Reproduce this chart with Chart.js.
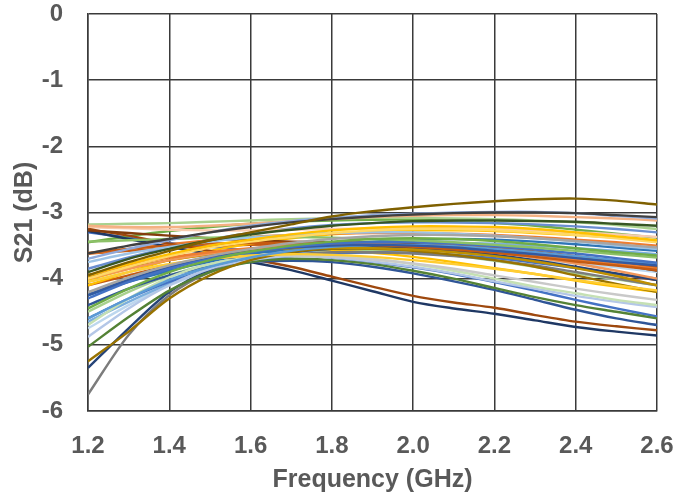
<!DOCTYPE html>
<html>
<head>
<meta charset="utf-8">
<script src="https://cdn.jsdelivr.net/npm/chart.js@4.4.1/dist/chart.umd.min.js"></script>
<style>
html,body{margin:0;padding:0;background:#fff;}
#wrap{width:675px;height:498px;}
</style>
</head>
<body>
<div id="wrap"><canvas id="c" width="675" height="498"></canvas></div>
<script>
// Frequency points (GHz)
const freqs = [1.2,1.3,1.4,1.5,1.6,1.7,1.8,1.9,2.0,2.1,2.2,2.3,2.4,2.5,2.6];
const xTicks = [1.2,1.4,1.6,1.8,2.0,2.2,2.4,2.6];
const yTicks = [0,-1,-2,-3,-4,-5,-6];

// S21 curves (dB), one array per device
const s01 = [-3.95,-3.75,-3.58,-3.42,-3.30,-3.18,-3.06,-2.98,-2.92,-2.87,-2.83,-2.80,-2.79,-2.82,-2.88];
const s02 = [-3.62,-3.50,-3.40,-3.30,-3.22,-3.15,-3.10,-3.06,-3.03,-3.01,-3.00,-3.00,-3.01,-3.04,-3.07];
const s03 = [-3.70,-3.55,-3.42,-3.30,-3.20,-3.13,-3.08,-3.04,-3.02,-3.00,-2.99,-2.99,-3.01,-3.05,-3.09];
const s04 = [-3.20,-3.22,-3.22,-3.20,-3.17,-3.13,-3.10,-3.07,-3.05,-3.04,-3.04,-3.05,-3.07,-3.09,-3.12];
const s05 = [-3.90,-3.70,-3.55,-3.42,-3.33,-3.26,-3.20,-3.16,-3.13,-3.12,-3.12,-3.13,-3.14,-3.17,-3.20];
const s06 = [-3.18,-3.17,-3.16,-3.14,-3.12,-3.10,-3.09,-3.08,-3.08,-3.09,-3.10,-3.12,-3.15,-3.19,-3.25];
const s07 = [-3.95,-3.78,-3.63,-3.50,-3.41,-3.33,-3.27,-3.23,-3.21,-3.21,-3.22,-3.25,-3.30,-3.36,-3.42];
const s08 = [-4.00,-3.82,-3.66,-3.53,-3.44,-3.37,-3.31,-3.27,-3.25,-3.25,-3.27,-3.30,-3.34,-3.39,-3.45];
const s09 = [-4.20,-3.98,-3.80,-3.66,-3.55,-3.46,-3.40,-3.36,-3.34,-3.34,-3.36,-3.39,-3.43,-3.48,-3.53];
const s10 = [-3.75,-3.62,-3.52,-3.44,-3.38,-3.34,-3.31,-3.30,-3.30,-3.32,-3.35,-3.39,-3.44,-3.50,-3.55];
const s11 = [-4.45,-4.15,-3.90,-3.72,-3.59,-3.50,-3.44,-3.40,-3.39,-3.40,-3.43,-3.48,-3.54,-3.60,-3.65];
const s12 = [-3.44,-3.42,-3.40,-3.38,-3.37,-3.37,-3.38,-3.40,-3.42,-3.45,-3.49,-3.53,-3.58,-3.63,-3.68];
const s13 = [-4.30,-4.05,-3.85,-3.70,-3.60,-3.52,-3.47,-3.45,-3.45,-3.47,-3.51,-3.56,-3.62,-3.69,-3.76];
const s14 = [-4.25,-4.02,-3.83,-3.69,-3.59,-3.53,-3.50,-3.49,-3.50,-3.53,-3.58,-3.63,-3.69,-3.75,-3.80];
const s15 = [-4.60,-4.30,-4.02,-3.82,-3.68,-3.58,-3.52,-3.49,-3.49,-3.51,-3.55,-3.60,-3.66,-3.72,-3.78];
const s16 = [-3.61,-3.55,-3.50,-3.47,-3.46,-3.46,-3.47,-3.49,-3.52,-3.56,-3.61,-3.67,-3.74,-3.80,-3.87];
const s17 = [-3.95,-3.80,-3.68,-3.60,-3.54,-3.50,-3.48,-3.48,-3.50,-3.53,-3.58,-3.64,-3.71,-3.78,-3.85];
const s18 = [-3.27,-3.31,-3.35,-3.39,-3.42,-3.44,-3.45,-3.46,-3.48,-3.52,-3.57,-3.63,-3.70,-3.78,-3.88];
const s19 = [-4.00,-3.85,-3.72,-3.62,-3.55,-3.50,-3.48,-3.48,-3.50,-3.54,-3.60,-3.68,-3.77,-3.88,-4.00];
const s20 = [-3.98,-3.84,-3.72,-3.63,-3.57,-3.54,-3.53,-3.54,-3.56,-3.60,-3.66,-3.74,-3.84,-3.96,-4.10];
const s21 = [-4.05,-3.90,-3.78,-3.70,-3.65,-3.63,-3.64,-3.67,-3.72,-3.78,-3.85,-3.93,-4.02,-4.10,-4.18];
const s22 = [-5.25,-4.80,-4.30,-3.95,-3.72,-3.60,-3.55,-3.55,-3.58,-3.64,-3.72,-3.82,-3.95,-4.08,-4.20];
const s23 = [-4.05,-3.90,-3.78,-3.70,-3.66,-3.65,-3.67,-3.71,-3.77,-3.85,-3.95,-4.05,-4.15,-4.24,-4.32];
const s24 = [-4.70,-4.30,-3.98,-3.78,-3.68,-3.64,-3.65,-3.70,-3.78,-3.88,-4.00,-4.12,-4.22,-4.32,-4.40];
const s25 = [-4.88,-4.45,-4.10,-3.85,-3.72,-3.66,-3.68,-3.74,-3.82,-3.92,-4.04,-4.15,-4.26,-4.35,-4.43];
const s26 = [-5.03,-4.58,-4.18,-3.90,-3.75,-3.70,-3.72,-3.78,-3.88,-4.00,-4.14,-4.28,-4.40,-4.50,-4.60];
const s27 = [-4.40,-4.15,-3.95,-3.82,-3.75,-3.73,-3.75,-3.82,-3.92,-4.04,-4.17,-4.32,-4.47,-4.60,-4.70];
const s28 = [-3.25,-3.35,-3.47,-3.58,-3.70,-3.82,-3.97,-4.12,-4.26,-4.36,-4.44,-4.55,-4.65,-4.72,-4.78];
const s29 = [-3.28,-3.40,-3.52,-3.63,-3.75,-3.87,-4.03,-4.19,-4.35,-4.45,-4.53,-4.63,-4.73,-4.80,-4.86];
const s30 = [-5.75,-4.85,-4.25,-3.90,-3.72,-3.64,-3.60,-3.60,-3.62,-3.66,-3.72,-3.80,-3.90,-4.00,-4.10];
const s31 = [-5.35,-4.75,-4.20,-3.88,-3.70,-3.60,-3.55,-3.53,-3.54,-3.58,-3.64,-3.72,-3.82,-3.92,-4.02];
const s32 = [-4.60,-4.30,-4.05,-3.86,-3.74,-3.66,-3.62,-3.60,-3.61,-3.64,-3.69,-3.76,-3.84,-3.93,-4.00];
const s33 = [-4.65,-4.35,-4.08,-3.86,-3.72,-3.62,-3.55,-3.50,-3.47,-3.46,-3.47,-3.50,-3.54,-3.58,-3.63];
const s34 = [-4.25,-4.05,-3.88,-3.74,-3.63,-3.55,-3.49,-3.44,-3.41,-3.40,-3.41,-3.44,-3.48,-3.53,-3.58];
const s35 = [-3.62,-3.55,-3.48,-3.42,-3.37,-3.34,-3.32,-3.31,-3.31,-3.32,-3.34,-3.37,-3.41,-3.45,-3.50];
const s36 = [-3.22,-3.24,-3.26,-3.27,-3.27,-3.26,-3.25,-3.24,-3.23,-3.23,-3.24,-3.27,-3.30,-3.33,-3.37];
const s37 = [-3.85,-3.68,-3.53,-3.41,-3.31,-3.24,-3.19,-3.16,-3.15,-3.15,-3.16,-3.18,-3.21,-3.25,-3.30];
const s38 = [-4.10,-3.90,-3.72,-3.58,-3.47,-3.39,-3.33,-3.29,-3.27,-3.27,-3.28,-3.31,-3.34,-3.38,-3.43];
const s39 = [-4.10,-3.95,-3.80,-3.68,-3.59,-3.53,-3.49,-3.47,-3.47,-3.49,-3.53,-3.59,-3.66,-3.74,-3.83];
const s40 = [-3.45,-3.36,-3.28,-3.22,-3.17,-3.14,-3.12,-3.11,-3.11,-3.13,-3.16,-3.20,-3.26,-3.32,-3.38];
const s41 = [-4.22,-4.00,-3.82,-3.69,-3.60,-3.55,-3.53,-3.53,-3.55,-3.58,-3.62,-3.67,-3.73,-3.79,-3.85];
const s42 = [-4.02,-3.85,-3.72,-3.63,-3.58,-3.56,-3.57,-3.61,-3.67,-3.75,-3.84,-3.93,-4.03,-4.12,-4.20];
const s43 = [-4.75,-4.40,-4.10,-3.88,-3.74,-3.66,-3.62,-3.60,-3.60,-3.62,-3.66,-3.71,-3.77,-3.83,-3.90];
const s44 = [-3.62,-3.58,-3.54,-3.51,-3.49,-3.48,-3.48,-3.50,-3.53,-3.58,-3.65,-3.73,-3.83,-3.93,-4.02];
const s45 = [-4.50,-4.20,-3.95,-3.78,-3.67,-3.60,-3.57,-3.57,-3.60,-3.65,-3.73,-3.82,-3.92,-4.01,-4.10];
const s46 = [-3.30,-3.38,-3.46,-3.52,-3.57,-3.62,-3.68,-3.75,-3.83,-3.93,-4.05,-4.18,-4.32,-4.45,-4.57];

const seriesList = [s01,s02,s03,s04,s05,s06,s07,s08,s09,s10,s11,s12,s13,s14,s15,s16,s17,s18,s19,s20,s21,s22,s23,
  s24,s25,s26,s27,s28,s29,s30,s31,s32,s33,s34,s35,s36,s37,s38,s39,s40,s41,s42,s43,s44,s45,s46];
const seriesColors = ['#7F6000','#404040','#8FAADC','#F4B183','#375623','#A9D18E','#FFC000','#FFD966','#A5A5A5',
  '#9DC3E6','#70AD47','#8CC168','#4472C4','#335AA1','#5B9BD5','#C55A11','#ED7D31','#843C0C','#F1975A','#BF9000',
  '#FFCD33','#997300','#C9C9C9','#C5E0B4','#B4C7E7','#548235','#2F5597','#9E480E','#1F3864','#7C7C7C','#264478',
  '#4472C4','#7CAFDD','#2E75B6','#ED7D31','#F8CBAD','#698ED0','#FFC000','#C55A11','#70AD47','#A5A5A5','#FFC000',
  '#BDD7EE','#C65911','#A9D18E','#4472C4'];

const datasets = seriesList.map((vals, i) => ({
  label: 'S' + (i + 1),
  data: vals.map((v, j) => ({x: freqs[j], y: v})),
  borderColor: seriesColors[i],
  borderWidth: 2.4,
  pointRadius: 0,
  tension: 0.3,
  fill: false
}));

const fontFam = '"Liberation Sans", Arial, sans-serif';
const txtColor = '#595959';
const gridColor = '#3a3a3a';

function zeroPad(s) { s.paddingTop = 0; s.paddingBottom = 0; s.paddingLeft = 0; s.paddingRight = 0; }

new Chart(document.getElementById('c'), {
  type: 'line',
  data: {datasets},
  options: {
    responsive: false,
    animation: false,
    devicePixelRatio: 1,
    layout: {padding: {top: 14, right: 18, left: 0, bottom: 0}},
    plugins: {legend: {display: false}, tooltip: {enabled: false}},
    scales: {
      x: {
        type: 'linear',
        min: xTicks[0],
        max: xTicks[xTicks.length - 1],
        afterBuildTicks: (s) => { s.ticks = xTicks.map(v => ({value: v})); },
        afterFit: (s) => { s.height = 87; zeroPad(s); },
        ticks: {
          padding: 21,
          color: txtColor,
          font: {family: fontFam, size: 24, weight: 'bold'},
          callback: (v) => Number(v).toFixed(1),
          maxRotation: 0
        },
        grid: {color: gridColor, lineWidth: 1.5, drawTicks: false},
        border: {color: gridColor, width: 1.5},
        title: {
          display: true,
          text: 'Frequency (GHz)',
          color: txtColor,
          font: {family: fontFam, size: 25, weight: 'bold'},
          padding: {top: 0, bottom: 3}
        }
      },
      y: {
        type: 'linear',
        min: -6,
        max: 0,
        afterBuildTicks: (s) => { s.ticks = yTicks.slice().reverse().map(v => ({value: v})); },
        afterFit: (s) => { s.width = 88; zeroPad(s); },
        ticks: {
          padding: 25,
          color: txtColor,
          font: {family: fontFam, size: 24, weight: 'bold'},
          callback: (v) => String(v)
        },
        grid: {color: gridColor, lineWidth: 1.5, drawTicks: false},
        border: {color: gridColor, width: 1.5},
        title: {
          display: true,
          text: 'S21 (dB)',
          color: txtColor,
          font: {family: fontFam, size: 25, weight: 'bold'},
          padding: {top: 10, bottom: 0}
        }
      }
    }
  }
});
</script>
</body>
</html>
